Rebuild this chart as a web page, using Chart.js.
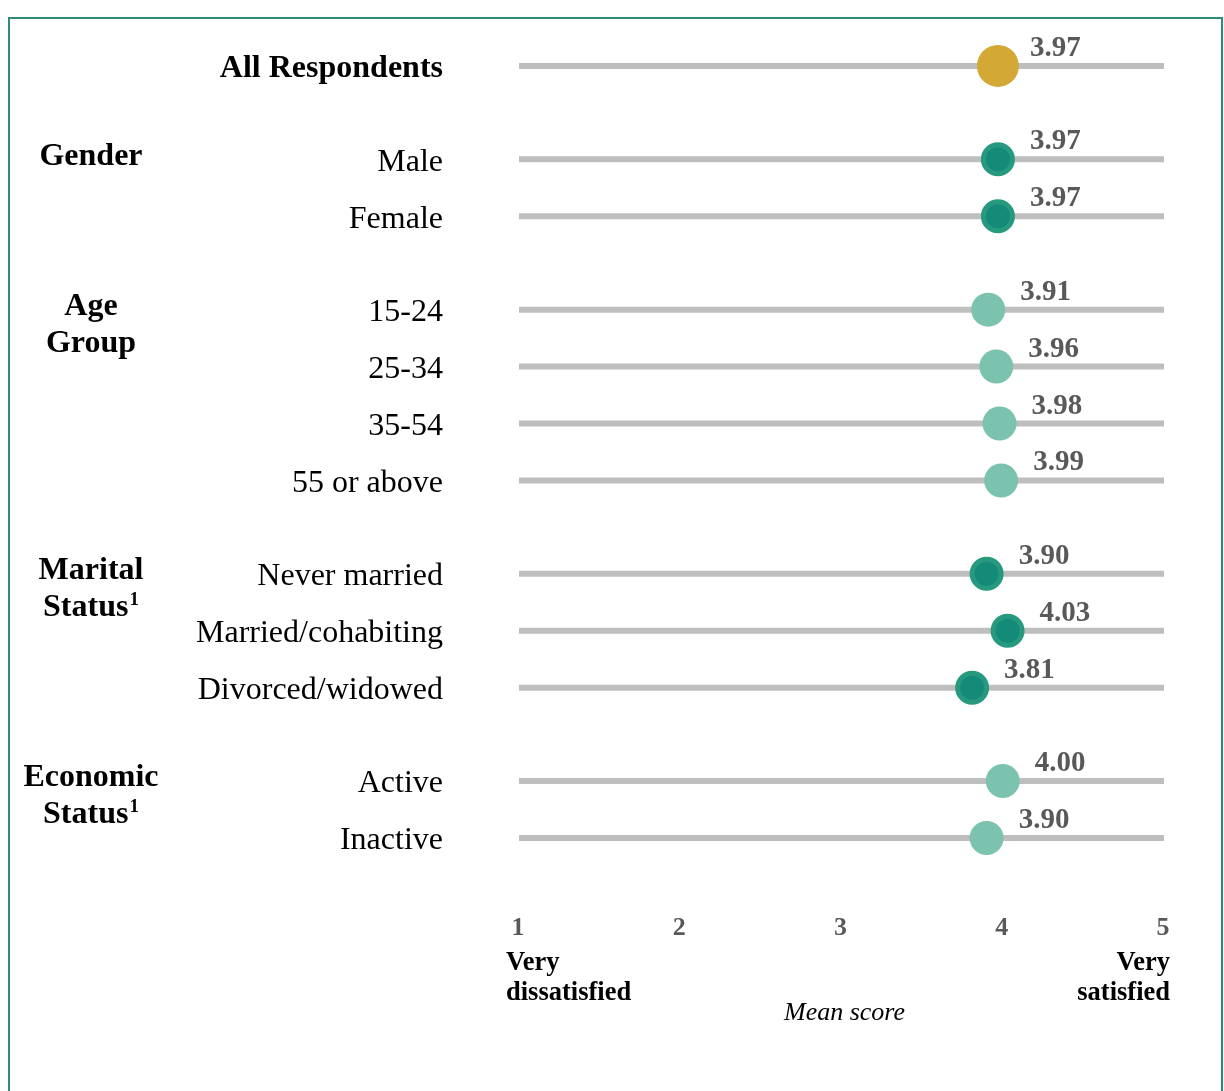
<!DOCTYPE html>
<html>
<head>
<meta charset="utf-8">
<script src="https://cdn.jsdelivr.net/npm/chart.js@4/dist/chart.umd.min.js"></script>
<style>
  html, body { margin: 0; padding: 0; background: #ffffff; }
  #wrap { position: relative; width: 1224px; height: 1091px; overflow: hidden; }
  #frame { position: absolute; left: 8px; top: 17px; width: 1215px; height: 1200px;
           border: 2px solid #2E8B78; box-sizing: border-box; }
  canvas { position: absolute; left: 0; top: 0; }
</style>
</head>
<body>
<div id="wrap">
  <div id="frame"></div>
  <canvas id="chart" width="1224" height="1091"></canvas>
</div>
<script>
// Respondent groups and their mean satisfaction scores (1 = very dissatisfied, 5 = very satisfied)
const categories = ['All Respondents', 'Male', 'Female', '15-24', '25-34', '35-54', '55 or above',
                    'Never married', 'Married/cohabiting', 'Divorced/widowed', 'Active', 'Inactive'];
const groupIndex = [0, 1, 1, 2, 2, 2, 2, 3, 3, 3, 4, 4];
const groupTitles = [[], ['Gender'], ['Age', 'Group'], ['Marital', 'Status'], ['Economic', 'Status']];
const groupFootnote = ['', '', '', '1', '1'];
const meanScores = [3.97, 3.97, 3.97, 3.91, 3.96, 3.98, 3.99, 3.90, 4.03, 3.81, 4.00, 3.90];
const tickValues = [1, 2, 3, 4, 5];
const lowEndLabel = ['Very', 'dissatisfied'];
const highEndLabel = ['Very', 'satisfied'];
const axisTitle = 'Mean score';

// dot styling per group
const GOLD = '#D4A834', DARK = '#148A79', DARK_RING = '#27997F', LIGHT = '#7BC2AF';
const groupStyle = [
  { fill: GOLD,  ring: GOLD,      radius: 21,   ring_w: 0 },
  { fill: DARK,  ring: DARK_RING, radius: 14.5, ring_w: 5 },
  { fill: LIGHT, ring: LIGHT,     radius: 17,   ring_w: 0 },
  { fill: DARK,  ring: DARK_RING, radius: 14.5, ring_w: 5 },
  { fill: LIGHT, ring: LIGHT,     radius: 17,   ring_w: 0 }
];

const GROUP_GAP = 0.64;
const rowPos = categories.map((_, i) => i + groupIndex[i] * GROUP_GAP);

const SERIF = '"Liberation Serif", "Times New Roman", serif';

const lineSets = rowPos.map(p => ({
  type: 'line',
  data: [{ x: tickValues[0], y: p }, { x: tickValues[tickValues.length - 1], y: p }],
  borderColor: '#BEBEBE',
  borderWidth: 6,
  borderCapStyle: 'butt',
  pointRadius: 0,
  fill: false,
  order: 2
}));

const dotSet = {
  type: 'scatter',
  data: meanScores.map((v, i) => ({ x: v, y: rowPos[i] })),
  backgroundColor: groupIndex.map(g => groupStyle[g].fill),
  borderColor: groupIndex.map(g => groupStyle[g].ring),
  borderWidth: groupIndex.map(g => groupStyle[g].ring_w),
  pointRadius: groupIndex.map(g => groupStyle[g].radius),
  pointHoverRadius: groupIndex.map(g => groupStyle[g].radius),
  clip: false,
  order: 1
};

const annotate = {
  id: 'annotate',
  afterDatasetsDraw(chart) {
    const ctx = chart.ctx;
    const xs = chart.scales.x, ys = chart.scales.y;
    const area = chart.chartArea;
    ctx.save();

    // value labels next to each dot
    const dots = chart.getDatasetMeta(chart.data.datasets.length - 1).data;
    ctx.fillStyle = '#595959';
    ctx.font = 'bold 29px ' + SERIF;
    ctx.textAlign = 'left';
    ctx.textBaseline = 'alphabetic';
    dots.forEach((pt, i) => {
      ctx.fillText(meanScores[i].toFixed(2), pt.x + 32, pt.y - 10);
    });

    // row labels
    const labelRight = area.left - 76;
    ctx.fillStyle = '#000000';
    ctx.textAlign = 'right';
    ctx.textBaseline = 'middle';
    categories.forEach((c, i) => {
      ctx.font = (i === 0 ? 'bold ' : '') + '32px ' + SERIF;
      ctx.fillText(c, labelRight, ys.getPixelForValue(rowPos[i]) + 3);
    });

    // group titles
    const groupCenter = 91;
    groupTitles.forEach((lines, g) => {
      if (!lines.length) return;
      const first = groupIndex.indexOf(g);
      const y0 = ys.getPixelForValue(rowPos[first]) - 3;
      lines.forEach((txt, k) => {
        const y = y0 + k * 37;
        const sup = (k === lines.length - 1 && lines.length > 1) ? groupFootnote[g] : '';
        ctx.font = 'bold 32px ' + SERIF;
        const w = ctx.measureText(txt).width;
        ctx.font = 'bold 19px ' + SERIF;
        const ws = sup ? ctx.measureText(sup).width + 1 : 0;
        const left = groupCenter - (w + ws) / 2;
        ctx.textAlign = 'left';
        ctx.font = 'bold 32px ' + SERIF;
        ctx.fillText(txt, left, y);
        if (sup) {
          ctx.font = 'bold 19px ' + SERIF;
          ctx.fillText(sup, left + w + 1, y - 8);
        }
      });
    });

    // x tick labels
    ctx.fillStyle = '#595959';
    ctx.font = 'bold 26px ' + SERIF;
    ctx.textAlign = 'center';
    ctx.textBaseline = 'middle';
    tickValues.forEach(v => ctx.fillText(String(v), xs.getPixelForValue(v) - 1, 928));

    // scale end descriptions
    ctx.fillStyle = '#000000';
    ctx.font = 'bold 26.5px ' + SERIF;
    ctx.textAlign = 'left';
    lowEndLabel.forEach((t, k) => ctx.fillText(t, xs.getPixelForValue(1) - 13, 963 + k * 30));
    ctx.textAlign = 'right';
    highEndLabel.forEach((t, k) => ctx.fillText(t, xs.getPixelForValue(5) + 6, 963 + k * 30));

    // axis title
    ctx.font = 'italic 26px ' + SERIF;
    ctx.textAlign = 'center';
    ctx.fillText(axisTitle, (area.left + area.right) / 2 + 3, 1013);

    ctx.restore();
  }
};

new Chart(document.getElementById('chart'), {
  data: { datasets: [...lineSets, dotSet] },
  options: {
    responsive: false,
    animation: false,
    events: [],
    layout: { autoPadding: false, padding: { left: 519, right: 60, top: 9, bottom: 171 } },
    scales: {
      x: { type: 'linear', min: 1, max: 5, display: false },
      y: { type: 'linear', min: -1, max: 15, reverse: true, display: false }
    },
    plugins: { legend: { display: false }, tooltip: { enabled: false } }
  },
  plugins: [annotate]
});
</script>
</body>
</html>
